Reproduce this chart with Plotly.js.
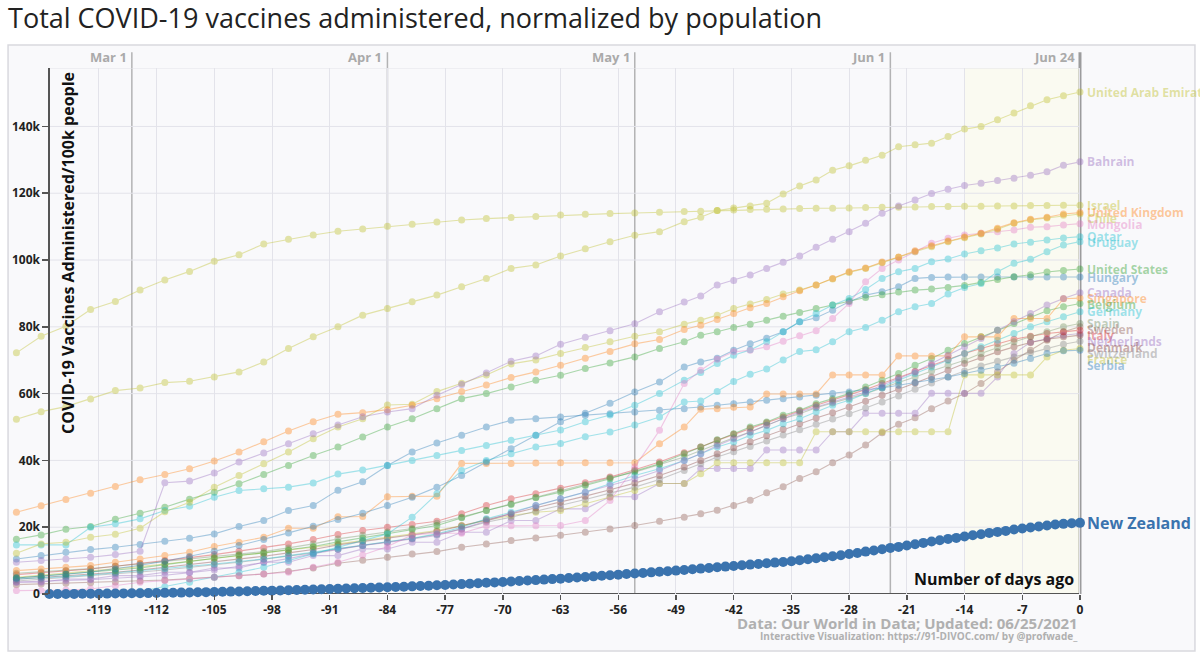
<!DOCTYPE html>
<html>
<head>
<meta charset="utf-8">
<script src="https://cdn.plot.ly/plotly-3.0.1.min.js"></script>
<style>
  html, body { margin: 0; padding: 0; background: #ffffff; }
  #chart { width: 1200px; height: 654px; }
</style>
</head>
<body>
<div id="chart"></div>
<script>
// Shared reporting grid: days before the last update (0 = Jun 24, 2021)
const DAYS = [-129,-126,-123,-120,-117,-114,-111,-108,-105,-102,-99,-96,-93,-90,-87,-84,-81,-78,-75,-72,-69,-66,-63,-60,-57,-54,-51,-48,
              -46,-44,-42,-40,-38,-36,-34,-32,-30,-28,-26,-24,-22,-20,-18,-16,-14,-12,-10,-8,-6,-4,-2,0];

// Doses administered per 100k people, in thousands
const UAE = [52.3,54.6,56.1,58.4,60.9,61.7,63.3,63.7,65,66.5,69.5,73.5,77,80,83.5,85.5,87.5,89.5,92,94.5,97.5,98.5,101.2,103.4,105.5,107.4,108.5,111.5,
             112.8,114.8,115.6,116.2,117,119.8,122.2,124,126.9,128.2,129.9,131.4,133.9,134.5,135,137,139.2,140,142,144,146.2,148,149.2,150.3];
const BAHRAIN = [9.5,10,10.5,11,11.8,12.8,33.3,33.8,36.2,39.5,42.2,45,48,50.6,53.1,54.5,55.5,59.5,62.7,66.2,69.7,71.3,74.8,76.9,78.8,80.9,84.5,87.4,
                 89.2,92.5,93.9,95.5,97.5,99.3,101.2,103.8,106.2,108.5,111,114,116.2,118,119.9,121.2,122.3,123,123.8,124.5,125.4,126.4,128.4,129.4];
const ISRAEL = [72.2,77.2,80.2,85.2,87.6,91,94,96.6,99.6,101.6,104.8,106.2,107.5,108.6,109.3,110.1,110.7,111.4,112,112.4,112.7,113,113.5,113.7,113.9,114.1,114.3,114.5,
                114.6,114.8,115,115.1,115.2,115.3,115.4,115.5,115.5,115.6,115.7,115.8,115.8,115.9,116,116,116.1,116.1,116.2,116.2,116.3,116.3,116.4,116.4];
const UK = [24.5,26.4,28.3,30.2,32.2,34.2,35.8,37.5,39.8,42.5,45.6,48.8,51.6,53.8,54.3,55.2,56.5,58.5,60.6,62.6,64.8,66.5,68.5,70.6,72.6,74.9,76.2,79.2,
            80.5,82.2,84,85.7,87,89,90.8,92.5,94.5,96.5,97.6,99.4,100.9,102.8,104.3,105.7,106.9,108,109.5,111.2,112.2,112.8,113.8,114.2];
const CHILE = [12.2,15,15.5,17,17.9,19.7,24.6,27.5,32,35.5,39,42.5,46.5,50,52.5,56.6,56.8,60.6,63.1,65.6,68.9,70.1,72,73.8,75.5,77.2,78.5,80.8,
               82,83.5,85.5,86.8,88.2,89.8,91,92.5,94.3,96.3,97.5,99.2,100.8,102.5,104,105.5,106.7,107.8,109.2,111,112,112.6,113.4,113.8];
const MONGOLIA = [1,1,1.2,1.5,2.5,3.5,4,4.5,5,5.5,6,6.5,8,9.5,11.7,14.2,17.7,18.2,18.2,20.4,20.4,20.4,20.5,22,28,38,49,63,
                  67,70.3,72.5,73,74,75.7,77.3,78.8,82.5,87,93.5,97.5,100,102.5,105,106.5,107.5,108,108.5,109,109.8,110,110.5,110.9];
const QATAR = [14.7,14.7,14.7,20,21,22.5,25,26.3,29,31,31.5,32,33.2,35.9,37.1,38.5,40,41.5,43,44.5,46,47.5,49.1,51.6,53.6,56.5,60,64,
               66.3,69,71.5,73.1,75.5,78.5,81.5,84,86.5,88.5,91.2,94.5,96.5,97.5,99.5,100.3,101.8,102.8,103.6,104.8,105.3,106,106.6,107];
const URUGUAY = [null,null,null,null,null,0.8,2.2,3.5,5,6.5,8,10,12,14,16,18,23,30,37,40,42,44,45.1,47.1,48.5,50.6,53,57.5,
                 57.8,60.6,63.6,65.8,67.4,70.1,72.6,73.1,75.5,78.5,79.8,82,84.5,86,87,89.8,91.8,93,96.5,99,100.2,102.5,104.5,105.5];
const USA = [16.4,17.7,19.4,20.2,22.4,24.2,26,28.4,30.5,33,35.8,38.5,41.5,44,47,50,52.5,55.5,58.5,60,62,64,65.5,67.5,69.2,71,73.5,75.5,
             77.5,78.5,79.8,80.8,82,83.2,84.3,85.5,86.5,87.8,88.8,89.6,90.4,91,91.3,91.8,92.4,93.3,94.2,95,95.6,96.4,96.9,97.3];
const HUNGARY = [4.8,5.3,5.9,6.6,7.5,8.6,9.8,11.2,12.8,14.5,16.3,18.3,20.3,22.3,24.2,26.5,29,32,35.5,39.5,43.5,47.5,51.6,54.1,57.1,60.5,63.5,68,
                 69.5,70.6,73,74.9,76.6,78.5,81.5,82.7,85,87.5,89.5,90.5,92,94.5,94.8,94.9,94.9,94.9,94.9,94.9,94.9,94.9,94.9,94.9];
const CANADA = [3.6,3.8,4,4.3,4.7,5.1,5.6,6.4,7.2,8.3,9.5,10.6,12.1,13.3,14.5,15.4,16.5,17.5,19.5,21.8,24,26.5,28.5,30.5,32.5,34.5,37,40,
                42,44.5,46.5,48.5,50.5,52.5,54.5,56,57.5,59,60.5,62.5,64.5,66.5,69,71.5,74,76.5,79,81.5,84,86.5,88.5,90.2];
const SINGAPORE = [7,7.5,8,8.5,9.5,10.5,11.5,12.5,14.2,15.5,17,19.7,19.7,23.1,23.2,29.1,29.3,29.3,39.1,39.1,39.1,39.2,39.3,39.3,39.3,39.3,45,50,
                   55.3,55.5,55.9,56,59.9,59.9,59.9,59.9,65.6,65.6,65.6,65.6,71.3,71.3,71.3,71.3,77,77,77,82.5,82.5,82.5,88.4,88.6];
const BELGIUM = [4.8,5.4,5.9,6.4,7,7.8,8.8,9.8,10.8,11.6,12.3,13.2,14.2,15.6,16.8,18.2,19.3,20.5,22.8,25,26.8,28.8,30.5,32.5,34.5,36.8,39,42,
                 44,46.2,48,50,51.5,53.5,55,57,58.5,60,62,64,66,68.5,70.5,73,75,77,79,81,83,84.8,86,87];
const GERMANY = [4.5,4.8,5.2,5.7,6.3,7,7.6,8.3,9,9.7,10.5,11.5,12.5,13.5,14.5,15.7,16.7,18,20,22.5,24.5,26.5,28.5,30.5,33,35.5,37.5,40,
                 42,44,45.5,47.5,49,51,52.5,54.5,56.5,58,60,62,64,66,68,70,72,74,76,78,80,81.5,83,84.5];
const SPAIN = [6.2,6.6,7,7.6,8.3,9,9.7,10.5,11.2,12,12.7,13.8,15,16.5,17.6,18.6,19.6,21.2,23,25,27,29,31,32.8,34.8,36.5,38.8,41,
               43,45,46.8,48.5,50.5,52.5,54,55.8,57.2,58.5,60,61.7,63.3,65,66.8,68.5,70,72,73.8,75.5,77,78.5,80,81];
const SWEDEN = [2.8,3,3.2,3.4,3.6,3.9,4.2,4.6,5,5.5,6,6.8,7.8,9.2,10.1,11,12,12.7,14,15,16,16.8,17.6,18.5,19.5,20.5,21.8,23,
                24,25.1,26.5,28.1,30.3,32.1,34.6,36.6,39.3,41.6,44.6,48.3,50.8,52.8,55.5,57.8,60,63,66.5,70,73,76,78.5,80];
const NETHERLANDS = [3.5,3.5,4.5,4.5,5.5,5.5,6.5,6.5,7.8,7.8,9.5,9.5,11.5,11.5,13.5,13.5,15.5,15.5,18.5,18.5,22,22,25.5,25.5,29.1,29.1,33.1,33.1,
                     37.6,37.6,37.6,37.6,43.1,43.1,43.1,43.1,48.6,48.6,54.1,54.1,54.1,54.1,60.1,60.1,60.1,60.1,65,72,75.4,76.5,77.5,78];
const ITALY = [5.8,6.3,6.9,7.5,8.3,9.1,10,10.9,11.8,12.8,13.8,15,16.3,17.8,19,20,20.8,21.8,24,26.5,28.5,30,31.7,33.3,35,37.2,39.5,42.3,
               44,46,47.8,49.6,51.3,53,54.8,56.5,58,59.5,61.2,63,64.8,66.7,68.5,70.2,72,73.5,75,76.3,77.2,78,78.5,79];
const DENMARK = [4.4,4.9,5.4,5.9,6.5,7.2,8,8.8,9.6,10.4,11.3,12.3,13.3,14.7,15.7,16.8,17.6,18.7,20.4,22.3,24,25.8,27.5,29.3,31.2,33.2,35.5,38,
                 40,42,43.8,45.6,47.4,49.3,51,52.7,54.3,56,57.7,59.5,61.3,63.2,65,67,69,70.8,72.5,74,75.3,76.3,77,77.5];
const SWITZERLAND = [3.9,4.4,4.9,5.4,6,6.6,7.2,7.9,8.7,9.5,10.4,11.3,12.3,13.5,14.5,15.5,16.6,17.8,19.5,21.5,23,24.8,26.5,28.3,30.2,32,34.3,37,
                     39,41,42.6,44.2,45.8,47.6,49.2,50.8,52.4,54,55.7,57.5,59.3,61.3,63.2,65,66.8,68.3,69.7,71,72.2,73.6,74.8,75.7];
const FRANCE = [5,5.6,6.2,6.8,7.5,8.2,9,9.8,10.6,11.4,12.2,13,14,15,16,17,18,19,20.5,22,23.5,24.5,25,27,29,31,33.1,33.1,
                36,39.3,39.3,39.3,39.3,39.3,39.3,48.6,48.6,48.6,48.6,48.6,48.6,48.6,48.6,48.6,65.6,65.6,65.6,65.6,65.6,71,73,73.5];
const SERBIA = [10.5,11.5,12.5,13.3,14,14.8,15.8,16.7,18,20.2,22,25,26.5,31.1,33.6,38.5,42.5,45.2,47.5,50,52,52.5,53,53.5,54,54.5,55,55.5,
                56,56.5,57,57.5,58,58.5,59,59.5,60,60.5,61,61.7,62.5,63.3,64.2,65,66,67,68,69.1,70.5,72,72.8,73];

// New Zealand reports daily, from day -125 to day 0
const NZ_VALUES = [0,0.01,0.02,0.03,0.05,0.07,0.09,0.12,0.15,0.18,0.21,0.24,0.27,0.30,0.34,0.38,0.42,0.46,0.50,0.55,
  0.60,0.66,0.72,0.77,0.83,0.89,0.95,1.00,1.07,1.14,1.21,1.28,1.36,1.43,1.50,1.57,1.64,1.71,1.78,1.85,
  1.93,2.00,2.09,2.19,2.29,2.39,2.49,2.60,2.70,2.83,2.96,3.09,3.22,3.35,3.48,3.60,3.74,3.88,4.02,4.16,
  4.31,4.46,4.60,4.77,4.94,5.11,5.28,5.45,5.62,5.80,5.97,6.14,6.31,6.48,6.65,6.82,7.00,7.20,7.40,7.60,
  7.80,8.00,8.20,8.40,8.60,8.80,9.00,9.20,9.40,9.60,9.80,10.1,10.4,10.7,11.0,11.3,11.6,12.0,12.3,12.7,
  13.0,13.4,13.8,14.1,14.5,14.9,15.3,15.7,16.1,16.5,16.8,17.2,17.6,17.9,18.3,18.6,18.9,19.3,19.6,19.9,
  20.2,20.5,20.8,21.0,21.2,21.3];

// Axis ticks and calendar markers
const X_TICKS = [-119,-112,-105,-98,-91,-84,-77,-70,-63,-56,-49,-42,-35,-28,-21,-14,-7,0];
const Y_TICKS = [0,20,40,60,80,100,120,140];
const Y_TICK_TEXT = ['0','20k','40k','60k','80k','100k','120k','140k'];
const MONTH_DAYS = [-115,-84,-54,-23,0];
const MONTH_LABELS = ['Mar 1','Apr 1','May 1','Jun 1','Jun 24'];

const COUNTRIES = [
  {name: 'Sweden', values: SWEDEN, color: '#8c564b'},
  {name: 'Netherlands', values: NETHERLANDS, color: '#9467bd'},
  {name: 'France', values: FRANCE, color: '#bcbd22'},
  {name: 'Switzerland', values: SWITZERLAND, color: '#7f7f7f'},
  {name: 'Denmark', values: DENMARK, color: '#843c39'},
  {name: 'Italy', values: ITALY, color: '#d62728'},
  {name: 'Spain', values: SPAIN, color: '#6f8f5f'},
  {name: 'Germany', values: GERMANY, color: '#17becf'},
  {name: 'Belgium', values: BELGIUM, color: '#2ca02c'},
  {name: 'Serbia', values: SERBIA, color: '#1f77b4'},
  {name: 'Singapore', values: SINGAPORE, color: '#ff7f0e'},
  {name: 'Canada', values: CANADA, color: '#9467bd'},
  {name: 'Hungary', values: HUNGARY, color: '#1f77b4'},
  {name: 'United States', values: USA, color: '#2ca02c'},
  {name: 'Uruguay', values: URUGUAY, color: '#17becf'},
  {name: 'Qatar', values: QATAR, color: '#17becf'},
  {name: 'Mongolia', values: MONGOLIA, color: '#e377c2'},
  {name: 'Chile', values: CHILE, color: '#bcbd22'},
  {name: 'United Kingdom', values: UK, color: '#ff7f0e'},
  {name: 'Israel', values: ISRAEL, color: '#bcbd22'},
  {name: 'Bahrain', values: BAHRAIN, color: '#9467bd'},
  {name: 'United Arab Emirates', values: UAE, color: '#bcbd22'}
];

const FONT = '"Open Sans", "DejaVu Sans", sans-serif';
const X_RANGE = [-129.9, 13.83];
const Y_MAX = 157.5;
const AXIS_DAY = -125;
const NZ_COLOR = '#3a73ae';

function rgba(hex, a) {
  const n = parseInt(hex.slice(1), 16);
  return 'rgba(' + (n >> 16) + ',' + ((n >> 8) & 255) + ',' + (n & 255) + ',' + a + ')';
}

const traces = COUNTRIES.map(c => ({
  type: 'scatter', mode: 'lines+markers', x: DAYS, y: c.values, name: c.name,
  line: {color: c.color, width: 1.1}, marker: {color: c.color, size: 7},
  opacity: 0.38, hoverinfo: 'skip', showlegend: false
}));

const nzDays = NZ_VALUES.map((v, i) => i - NZ_VALUES.length + 1);
traces.push({
  type: 'scatter', mode: 'lines+markers', x: nzDays, y: NZ_VALUES, name: 'New Zealand',
  line: {color: NZ_COLOR, width: 3}, marker: {color: NZ_COLOR, size: 10},
  cliponaxis: false, hoverinfo: 'skip', showlegend: false
});

// Plot area height in px, used to keep end labels from piling up
const PLOT_H = 526;
const pxPerK = PLOT_H / Y_MAX;
const lastOf = arr => { for (let i = arr.length - 1; i >= 0; i--) if (arr[i] != null) return arr[i]; return null; };
const ordered = COUNTRIES.map(c => ({c, v: lastOf(c.values)})).sort((a, b) => b.v - a.v);
const GAP = 6;
let prevPx = -Infinity;
ordered.forEach(o => {
  let px = (Y_MAX - o.v) * pxPerK;
  if (px < prevPx + GAP) px = prevPx + GAP;
  prevPx = px;
  o.labelY = Y_MAX - px / pxPerK;
});

const annotations = [];
ordered.forEach(o => annotations.push({
  xref: 'x', yref: 'y', x: 0, y: o.labelY, xanchor: 'left', yanchor: 'middle', xshift: 5,
  text: o.c.name, showarrow: false,
  font: {family: FONT, size: 12, weight: 700, color: rgba(o.c.color, 0.42)}
}));
annotations.push({
  xref: 'x', yref: 'y', x: 0, y: lastOf(NZ_VALUES), xanchor: 'left', yanchor: 'middle', xshift: 5,
  text: 'New Zealand', showarrow: false,
  font: {family: FONT, size: 16, weight: 700, color: NZ_COLOR}
});
MONTH_DAYS.forEach((d, i) => annotations.push({
  xref: 'x', yref: 'paper', x: d, y: 1, xanchor: 'right', yanchor: 'bottom', xshift: -3, yshift: 0,
  text: MONTH_LABELS[i], showarrow: false,
  font: {family: FONT, size: 13, weight: 700, color: '#aaaaaa'}
}));
annotations.push({
  xref: 'x', yref: 'paper', x: AXIS_DAY, y: 0.997, xanchor: 'left', yanchor: 'top', xshift: 5,
  text: 'COVID-19 Vaccines Administered/100k people', textangle: -90, showarrow: false,
  font: {family: FONT, size: 16, weight: 700, color: '#111'}
});
annotations.push({
  xref: 'x', yref: 'y', x: 0, y: 0, xanchor: 'right', yanchor: 'bottom', xshift: -4, yshift: 2,
  text: 'Number of days ago', showarrow: false,
  font: {family: FONT, size: 16, weight: 700, color: '#111'}
});
annotations.push({
  xref: 'x', yref: 'paper', x: 0, y: -0.055, xanchor: 'right', yanchor: 'middle',
  text: 'Data: Our World in Data; Updated: 06/25/2021', showarrow: false,
  font: {family: FONT, size: 15, weight: 700, color: '#b0b0b0'}
});
annotations.push({
  xref: 'x', yref: 'paper', x: 0, y: -0.08, xanchor: 'right', yanchor: 'middle',
  text: 'Interactive Visualization: https://91-DIVOC.com/ by @profwade_', showarrow: false,
  font: {family: FONT, size: 10, weight: 700, color: '#b0b0b0'}
});

const shapes = [
  {type: 'rect', xref: 'paper', yref: 'paper', x0: -0.0008, x1: 1.0008, y0: -0.1084, y1: 1.0437,
   fillcolor: '#f9f9fb', line: {color: '#d9d9de', width: 1.5}, layer: 'below'},
  {type: 'rect', xref: 'x', yref: 'y', x0: -14, x1: 0, y0: 0, y1: Y_MAX,
   fillcolor: 'rgba(255,255,205,0.22)', line: {width: 0}, layer: 'below'}
];
Y_TICKS.slice(1).concat([Y_MAX]).forEach(v => shapes.push({
  type: 'line', xref: 'x', yref: 'y', x0: AXIS_DAY, x1: 0, y0: v, y1: v,
  line: {color: '#e3e3ea', width: 1}, layer: 'below'
}));
MONTH_DAYS.forEach(d => shapes.push({
  type: 'line', xref: 'x', yref: 'paper', x0: d, x1: d, y0: 0, y1: 1.03,
  line: {color: d === 0 ? 'rgba(140,140,140,0.85)' : 'rgba(150,150,150,0.7)', width: d === 0 ? 3 : 1.5},
  layer: 'below'
}));
shapes.push({
  type: 'line', xref: 'x', yref: 'y', x0: AXIS_DAY, x1: 0, y0: 0, y1: 0,
  line: {color: '#555', width: 2}, layer: 'below'
});

const layout = {
  width: 1200, height: 654,
  margin: {l: 9, r: 6, t: 68, b: 60, pad: 0},
  paper_bgcolor: '#ffffff', plot_bgcolor: 'rgba(0,0,0,0)',
  title: {
    text: 'Total COVID-19 vaccines administered, normalized by population',
    xref: 'container', yref: 'container', x: 0.0067, xanchor: 'left', y: 0.972, yanchor: 'middle',
    font: {family: FONT, size: 27, color: '#222'}
  },
  xaxis: {
    range: X_RANGE, tickvals: X_TICKS, ticktext: X_TICKS.map(String),
    showgrid: true, gridcolor: '#e3e3ea', gridwidth: 1, zeroline: false, showline: false,
    ticks: 'outside', ticklen: 5, tickwidth: 1.5, tickcolor: '#555',
    tickfont: {family: FONT, size: 12, weight: 700, color: '#222'}, fixedrange: true
  },
  yaxis: {
    range: [0, Y_MAX], anchor: 'free',
    position: (AXIS_DAY - X_RANGE[0]) / (X_RANGE[1] - X_RANGE[0]),
    tickvals: Y_TICKS, ticktext: Y_TICK_TEXT,
    showgrid: false, zeroline: false, showline: true, linecolor: '#555', linewidth: 2,
    ticks: 'outside', ticklen: 6, tickwidth: 1.5, tickcolor: '#555',
    tickfont: {family: FONT, size: 12, weight: 700, color: '#222'}, fixedrange: true
  },
  shapes: shapes,
  annotations: annotations,
  showlegend: false,
  hovermode: false
};

Plotly.newPlot('chart', traces, layout, {staticPlot: true, displayModeBar: false});
</script>
</body>
</html>
